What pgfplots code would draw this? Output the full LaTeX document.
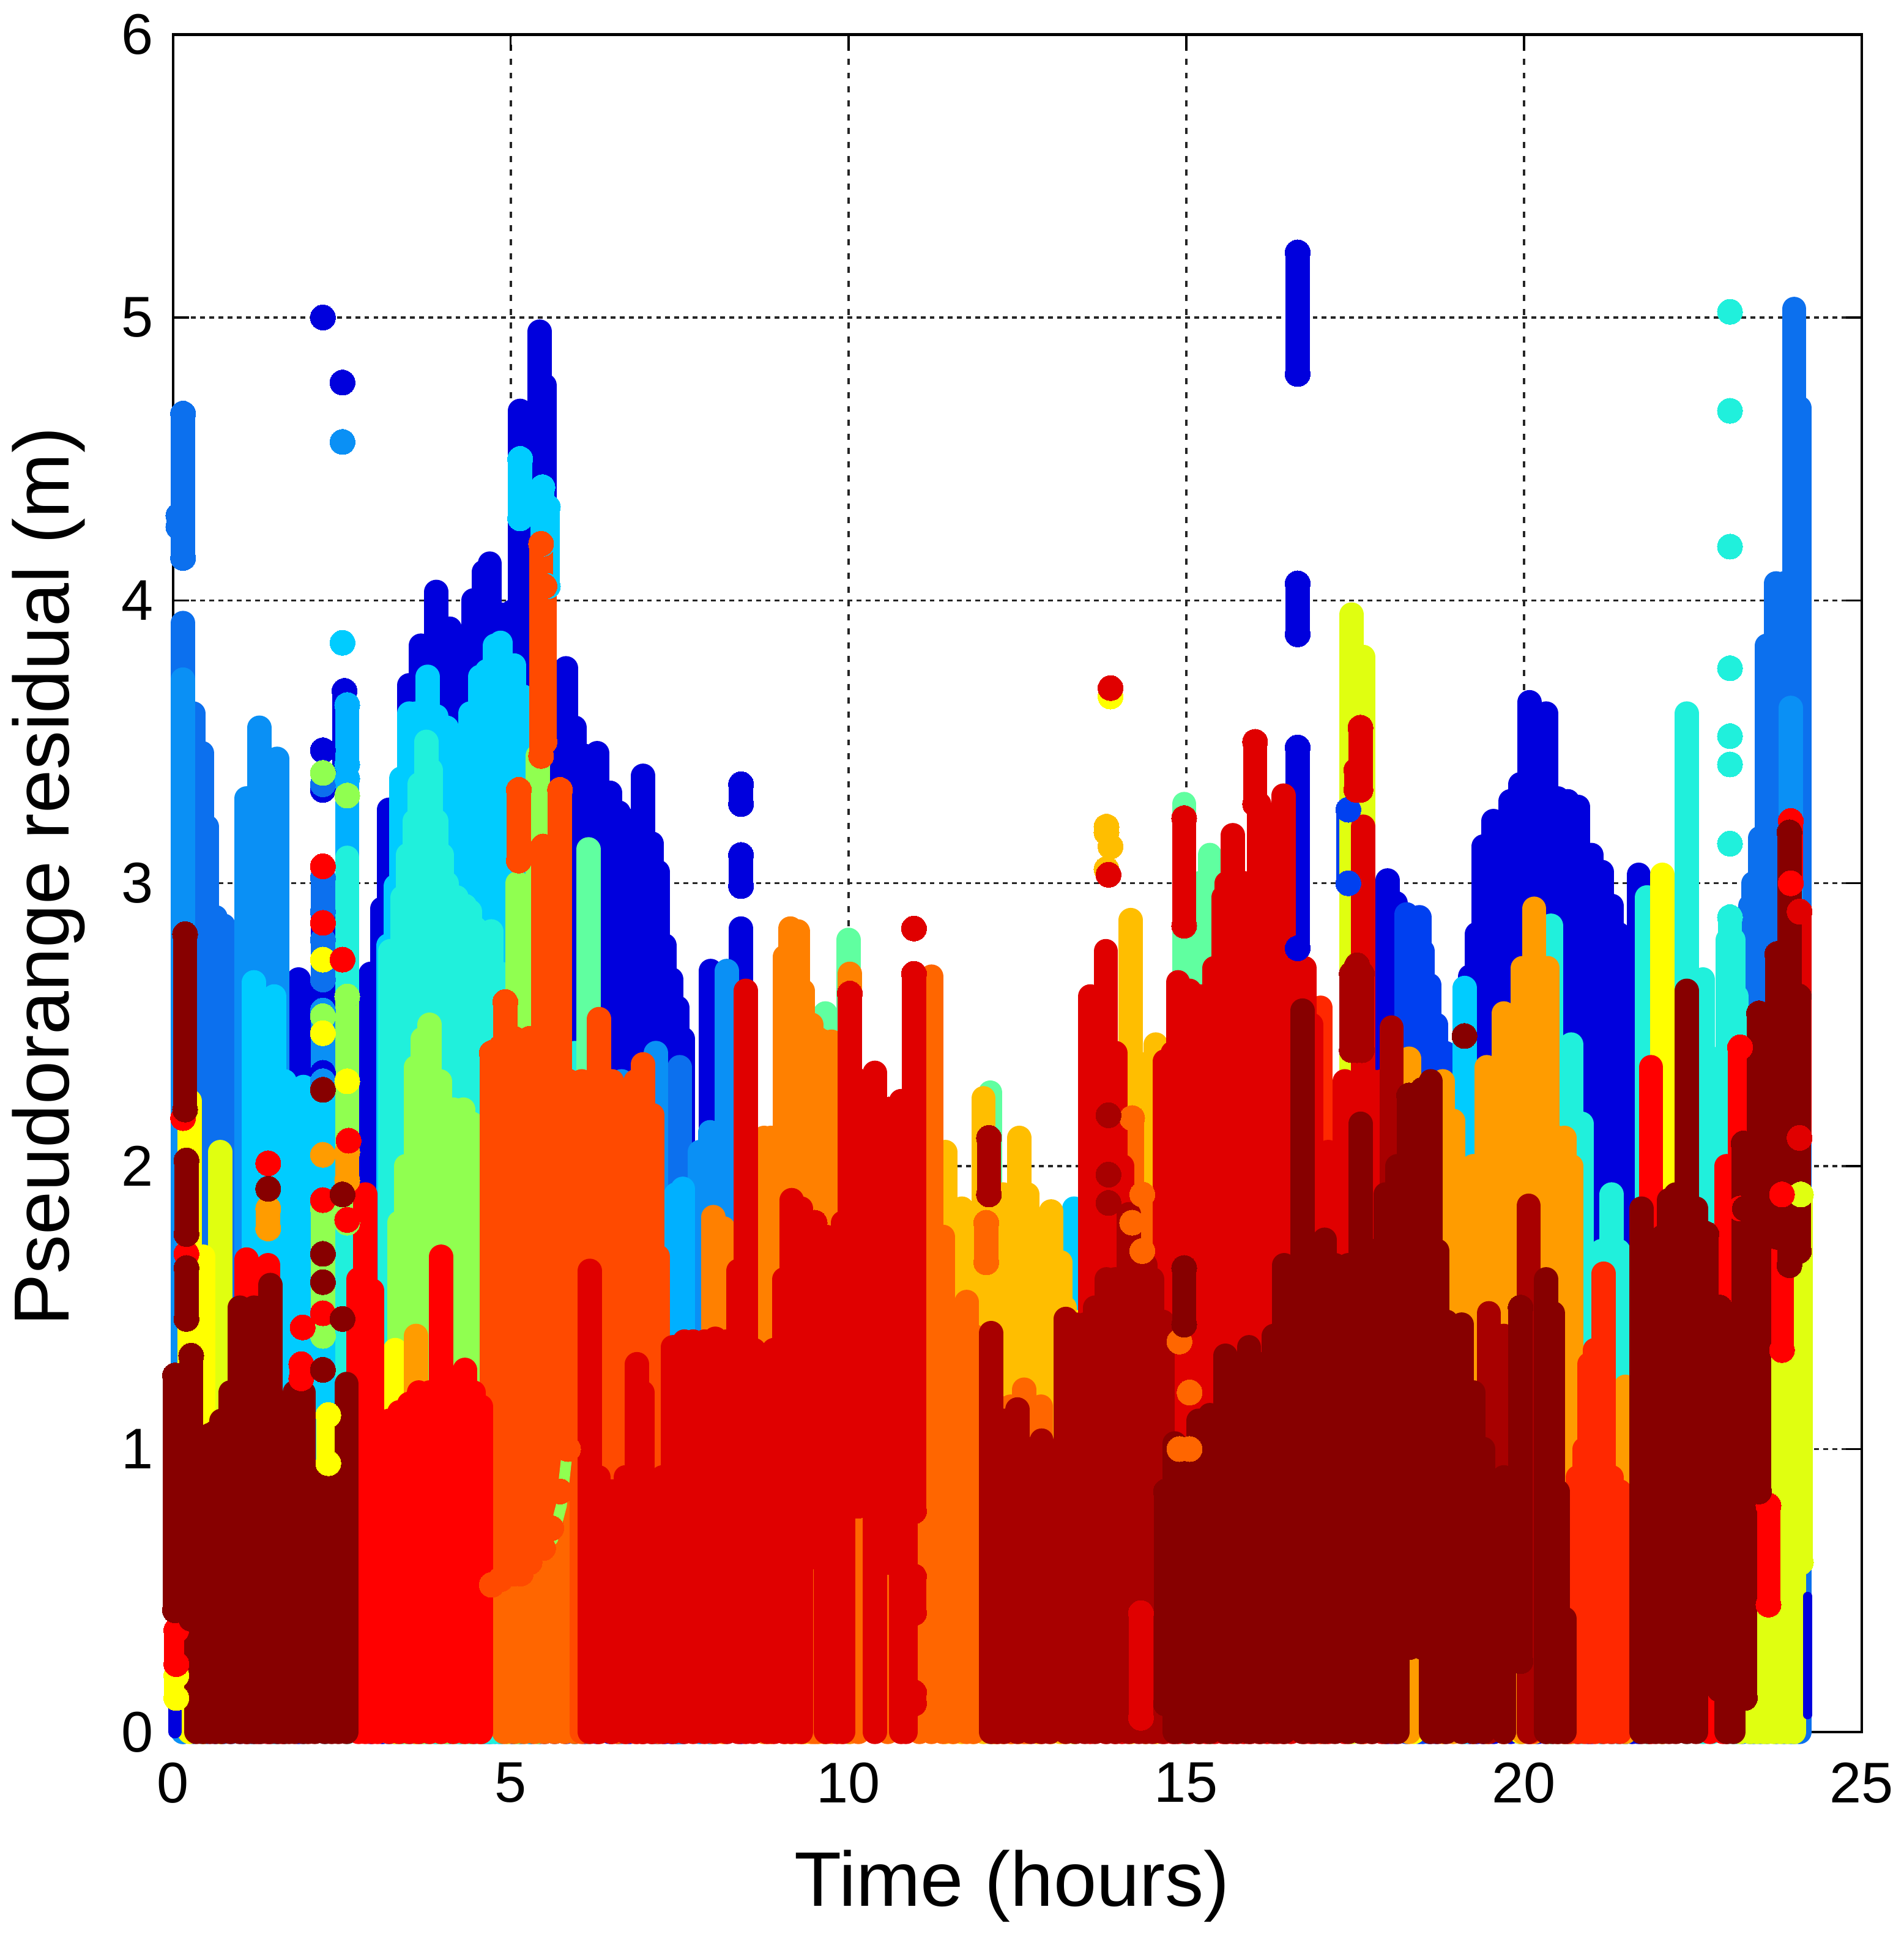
\documentclass[border=0pt]{standalone}
\usepackage{pgfplots}
\pgfplotsset{compat=1.18}
\usepackage{fontspec}
\setmainfont{Liberation Sans}
% jet-like colours, back to front
\definecolor{C1}{HTML}{0000DD}\definecolor{C2}{HTML}{0040F0}\definecolor{C3}{HTML}{0C70EE}
\definecolor{C4}{HTML}{0A90F5}\definecolor{C5}{HTML}{00B0FF}\definecolor{C6}{HTML}{00CCFF}
\definecolor{C7}{HTML}{20F0DC}\definecolor{C8}{HTML}{60FFA0}\definecolor{C9}{HTML}{90FF50}
\definecolor{C10}{HTML}{E0FF10}\definecolor{C11}{HTML}{FFFF00}\definecolor{C12}{HTML}{FFBE00}
\definecolor{C13}{HTML}{FF9C00}\definecolor{C14}{HTML}{FF8000}\definecolor{C15}{HTML}{FF6600}
\definecolor{C16}{HTML}{FF4A00}\definecolor{C17}{HTML}{FF2800}\definecolor{C18}{HTML}{FF0000}
\definecolor{C19}{HTML}{E00000}\definecolor{C20}{HTML}{A80000}\definecolor{C21}{HTML}{870000}
\pgfplotsset{
  comb/.style={ycomb,no markers,color=#1,line width=5.6pt,line cap=round},
  seg/.style={color=#1,line width=5.6pt,line cap=round,unbounded coords=jump,
    mark=*,mark size=2.9pt,mark options={solid,line width=0pt}},
}
\begin{document}
\begin{tikzpicture}
\useasboundingbox (-1.40,-1.66) rectangle (14.01,14.02);
\begin{axis}[
  scale only axis,width=13.67cm,height=13.74cm,
  xmin=0,xmax=25,ymin=0,ymax=6,
  xtick={0,5,...,25},ytick={0,1,...,6},
  clip=false,
  tick align=inside,major tick length=0.13cm,
  tick style={black,line width=0.5pt},
  axis line style={line width=0.6pt},
  xmajorgrids,ymajorgrids,
  x grid style={black!85,line width=0.55pt,dash pattern=on 1.4pt off 1.8pt},
  y grid style={black!85,line width=0.5pt,dash pattern=on 1.1pt off 1pt},
  /pgf/number format/assume math mode=true,
  tick label style={font=\fontsize{13.2}{14}\selectfont},
  xticklabel style={yshift=-3.5pt},
  yticklabel style={xshift=-1pt},
  xlabel={Time (hours)},ylabel={Pseudorange residual (m)},
  every axis x label/.style={at={(axis description cs:0.497,-0.091)},anchor=center,
    font=\fontsize{17.8}{20}\selectfont},
  every axis y label/.style={at={(axis description cs:-0.0735,0.504)},anchor=center,rotate=90,
    font=\fontsize{18}{20}\selectfont},
]
% dark blue
\addplot[comb=C1] coordinates {(1.86,2.66)(2.93,2.68)(3.1,2.91)(3.2,3.26)(3.3,3.2)(3.5,3.7)(3.67,3.84)(3.9,4.03)(4.1,3.9)(4.26,3.68)(4.45,4.0)(4.6,4.1)(4.69,4.13)(4.85,3.95)(5.02,3.96)(5.14,4.67)(5.3,4.5)(5.43,4.95)(5.5,4.76)(5.65,3.7)(5.82,3.76)(5.95,3.55)(6.1,3.45)(6.28,3.46)(6.47,3.32)(6.6,3.25)(6.76,3.22)(6.96,3.38)(7.09,3.14)(7.18,3.04)(7.28,2.78)(7.38,2.66)(7.47,2.56)(7.55,2.45)(7.96,2.69)(8.41,2.84)(17.98,3.01)(18.1,2.93)(19.2,2.67)(19.3,2.82)(19.4,3.13)(19.55,3.22)(19.8,3.29)(19.95,3.35)(20.08,3.64)(20.2,3.6)(20.33,3.6)(20.5,3.3)(20.65,3.29)(20.8,3.27)(20.95,3.1)(21.0,3.10)(21.15,3.04)(21.3,2.92)(21.4,2.82)(21.5,2.71)(21.6,2.67)(21.7,3.03)};
\addplot[seg=C1] coordinates {(2.22,5.0)(0,nan)(2.51,4.77)(0,nan)(2.22,3.47)(0,nan)(2.22,3.33)(0,nan)(2.22,2.33)(2.22,3.02)(0,nan)(2.54,3.4)(2.54,3.68)(0,nan)(16.65,4.8)(16.65,5.23)(0,nan)(16.65,3.88)(16.65,4.06)(0,nan)(16.65,2.77)(16.65,3.48)(0,nan)(8.41,3.28)(8.41,3.35)(0,nan)(8.41,2.99)(8.41,3.10)};
% blues
\addplot[comb=C2] coordinates {(18.26,2.89)(18.45,2.88)(18.5,2.76)(18.6,2.64)(18.7,2.5)(18.83,2.40)};
\addplot[seg=C2] coordinates {(17.4,3.0)(17.4,3.26)};
\addplot[comb=C3] coordinates {(0.15,3.92)(0.3,3.6)(0.43,3.46)(0.5,3.2)(0.63,2.88)(0.75,2.85)(0.86,2.78)(1.0,2.6)(7.5,2.35)(24.08,4.68)(23.85,4.06)(23.73,4.06)(23.6,3.84)(23.5,3.16)(23.4,3.0)(23.35,2.92)(23.23,2.71)(24.0,5.03)};
\addplot[seg=C3] coordinates {(0.15,4.15)(0.15,4.66)(0,nan)(0.08,4.26)(0.08,4.3)(0,nan)(2.22,2.9)(2.22,3.02)(0,nan)(2.22,3.35)(0,nan)(2.22,2.66)(2.22,2.8)};
\addplot[comb=C4] coordinates {(0.15,3.72)(1.09,3.3)(1.15,3.3)(1.28,3.55)(1.54,3.44)(1.4,3.36)(6.64,2.3)(7.15,2.4)(8.2,2.69)(7.8,2.05)(7.95,2.12)(23.95,3.62)};
\addplot[seg=C4] coordinates {(2.51,4.56)(0,nan)(2.22,2.3)(2.22,2.55)};
\addplot[comb=C5] coordinates {(7.45,1.9)(7.55,1.92)};
\addplot[seg=C5] coordinates {(2.58,3.42)(2.58,3.63)(0,nan)(2.58,2.6)(2.58,3.37)};
\addplot[comb=C6] coordinates {(1.2,2.65)(1.5,2.6)(1.65,2.3)(1.93,2.28)(2.25,2.28)(3.19,2.78)(3.3,2.99)(3.38,3.37)(3.5,3.6)(3.6,3.6)(3.77,3.73)(3.9,3.59)(4.05,3.55)(4.26,3.52)(4.4,3.6)(4.55,3.73)(4.65,3.75)(4.77,3.84)(4.85,3.85)(5.05,3.77)(5.18,3.66)(5.28,3.4)(13.34,1.85)(19.12,2.63)};
\addplot[seg=C6] coordinates {(2.51,3.85)(0,nan)(5.14,4.29)(5.14,4.5)(0,nan)(5.47,4.2)(5.47,4.4)(0,nan)(5.55,4.05)(5.55,4.33)};
% turquoise and greens
\addplot[comb=C7] coordinates {(2.58,3.09)(3.22,2.76)(3.4,2.95)(3.48,3.1)(3.58,3.22)(3.65,3.35)(3.75,3.5)(3.82,3.4)(3.9,3.22)(3.98,3.1)(4.05,3.0)(4.13,2.91)(4.2,2.95)(4.32,2.92)(4.4,2.9)(4.48,2.84)(4.6,2.8)(4.71,2.83)(4.85,2.68)(4.95,2.55)(5.95,2.4)(20.4,2.85)(20.7,2.43)(20.85,2.15)(21.15,1.7)(21.3,1.9)(21.4,1.7)(21.5,1.6)(21.82,2.95)(22.41,3.6)(22.65,2.66)(22.78,2.38)(23.02,2.8)(23.1,2.8)(23.15,2.6)};
\addplot[seg=C7] coordinates {(23.05,5.02)(0,nan)(23.05,4.67)(0,nan)(23.05,4.19)(0,nan)(23.05,3.76)(0,nan)(23.05,3.52)(0,nan)(23.05,3.42)(0,nan)(23.05,3.14)(0,nan)(23.05,2.88)(23.05,2.7)};
\addplot[comb=C8] coordinates {(6.15,3.12)(9.66,2.54)(10.0,2.8)(12.1,2.26)(14.97,3.28)(15.2,3.0)(15.35,3.1)};
\addplot[comb=C9] coordinates {(3.35,1.8)(3.45,2.0)(3.6,2.35)(3.7,2.45)(3.8,2.5)(3.95,2.3)(4.05,2.2)(4.15,2.2)(4.3,2.2)(4.42,2.15)(4.55,2.0)(5.1,3.0)(5.4,3.45)};
\addplot[seg=C9] coordinates {(2.22,3.39)(0,nan)(2.58,3.31)(0,nan)(2.22,2.53)(0,nan)(2.22,1.4)(2.22,1.85)(0,nan)(2.58,1.8)(2.58,2.6)};
\addplot[comb=C10] coordinates {(17.45,3.95)(17.62,3.8)(0.7,2.05)(23.2,0.5)(23.35,0.8)(23.45,1.0)(23.55,1.1)(23.6,1.2)(23.7,1.6)(23.8,1.85)(23.9,1.9)(24.0,1.95)};
\addplot[seg=C10] coordinates {(24.1,0.6)(24.1,1.9)};
% yellow to orange
\addplot[comb=C11] coordinates {(0.25,2.23)(0.45,1.68)(3.29,1.35)(9.36,0.03)(18.37,0.26)(19.95,0.2)(22.05,3.03)(13.34,1.45)};
\addplot[seg=C11] coordinates {(0.05,0.12)(0.05,0.2)(0,nan)(2.22,2.73)(0,nan)(2.22,2.47)(0,nan)(2.58,2.3)(0,nan)(2.3,0.95)(2.3,1.12)(0,nan)(13.88,3.66)};
\addplot[comb=C12] coordinates {(11.43,2.05)(11.55,1.85)(11.68,1.85)(11.85,1.8)(12.0,2.24)(12.15,1.9)(12.29,1.9)(12.42,1.8)(12.53,2.1)(12.65,1.9)(12.79,1.62)(13.0,1.84)(13.14,1.66)(13.2,1.5)(14.18,2.87)(14.4,2.36)(14.55,2.43)(4.95,0.5)};
\addplot[seg=C12] coordinates {(13.82,3.2)(13.82,3.18)(0,nan)(13.88,3.13)(0,nan)(13.82,3.05)};
\addplot[comb=C13] coordinates {(3.6,1.4)(18.3,2.38)(18.8,2.3)(18.95,2.16)(19.25,2.0)(19.45,2.35)(19.7,2.54)(19.98,2.7)(20.15,2.91)(20.35,2.7)(20.5,2.1)(20.6,2.1)(20.7,2.0)(21.5,1.22)};
\addplot[seg=C13] coordinates {(1.41,1.78)(1.41,1.85)(0,nan)(2.22,2.04)(0,nan)(2.58,1.95)(2.58,2.05)};
\addplot[comb=C14] coordinates {(8.0,1.82)(8.15,1.78)(8.75,2.1)(8.85,2.1)(9.06,2.74)(9.14,2.84)(9.25,2.83)(9.32,2.62)(9.45,2.5)(9.55,2.45)(9.64,2.44)(9.75,2.44)(9.9,2.4)(10.02,2.68)};
\addplot[comb=C15] coordinates {(4.9,0.5)(5.05,0.52)(5.2,0.5)(5.35,0.55)(5.5,0.6)(5.65,0.7)(5.8,0.9)(5.95,0.95)(6.58,0.9)(9.5,0.6)(10.15,0.8)(10.58,0.6)(11.05,0.9)(11.23,2.67)(11.4,1.75)(11.55,1.4)(11.75,1.52)(11.85,1.4)(12.2,1.15)(12.4,1.15)(12.6,1.21)(12.85,1.15)};
\addplot[seg=C15] coordinates {(12.04,1.66)(12.04,1.8)(0,nan)(14.2,1.8)(14.2,2.17)(0,nan)(14.35,1.7)(14.35,1.9)(0,nan)(14.9,1.0)(14.9,1.38)(0,nan)(15.05,1.0)(15.05,1.2)};
\addplot[comb=C16] coordinates {(4.55,0.8)(6.05,2.3)(6.31,2.52)(6.5,2.3)(6.7,2.2)(6.85,2.3)(6.96,2.36)(7.1,2.18)(7.18,1.68)};
\addplot[seg=C16] coordinates {(5.45,3.45)(5.45,4.2)(0,nan)(5.5,3.5)(5.5,4.05)(0,nan)(5.12,3.08)(5.12,3.33)(0,nan)(4.72,0.52)(4.72,2.4)(0,nan)(4.85,0.54)(4.85,2.42)(0,nan)(4.92,0.56)(4.92,2.58)(0,nan)(5.05,0.56)(5.05,2.45)(0,nan)(5.15,0.56)(5.15,2.41)(0,nan)(5.28,0.6)(5.28,2.45)(0,nan)(5.48,0.65)(5.48,3.13)(0,nan)(5.6,0.72)(5.6,3.13)(0,nan)(5.73,0.85)(5.73,3.33)(0,nan)(5.85,1.0)(5.85,2.3)};
\addplot[color=C9,line width=2.5pt,line cap=round] coordinates {(5.62,0.68)(5.75,0.8)(5.85,1.02)};
% reds
\addplot[comb=C17] coordinates {(16.99,2.56)(20.1,0.2)(20.65,0.6)(20.8,0.9)(20.9,1.0)(20.97,1.3)(21.05,1.35)(21.18,1.62)(21.3,0.9)(21.42,0.85)};
\addplot[comb=C18] coordinates {(1.09,1.67)(1.25,1.6)(1.41,1.65)(1.62,0.96)(2.75,1.6)(2.85,1.9)(2.95,1.56)(3.03,1.05)(3.2,1.1)(3.35,1.13)(3.5,1.16)(3.64,1.2)(3.8,1.2)(3.97,1.68)(4.15,1.25)(4.32,1.28)(4.45,1.2)(4.56,1.15)(21.88,2.35)(22.75,0.2)(22.95,0.06)(23.0,2.0)};
\addplot[seg=C18] coordinates {(0.05,0.24)(0.05,0.36)(0,nan)(0.15,2.17)(0,nan)(0.2,1.69)(0,nan)(1.41,2.01)(0,nan)(1.92,1.43)(0,nan)(1.9,1.25)(1.9,1.3)(0,nan)(2.22,3.06)(0,nan)(2.22,2.86)(0,nan)(2.51,2.73)(0,nan)(2.22,1.88)(0,nan)(2.22,1.48)(0,nan)(2.6,2.09)(0,nan)(2.58,1.81)(0,nan)(23.2,1.85)(23.2,2.42)(0,nan)(23.82,1.35)(23.82,1.9)(0,nan)(23.62,0.45)(23.62,0.8)(0,nan)(23.95,3.0)(23.95,3.22)};
\addplot[comb=C19] coordinates {(6.17,1.63)(6.3,0.9)(6.5,0.85)(6.7,0.9)(6.87,1.3)(6.95,1.2)(7.09,0.82)(7.25,0.9)(7.4,1.36)(7.57,1.38)(7.7,1.38)(7.87,1.38)(8.03,1.39)(8.2,1.38)(8.37,1.63)(8.48,2.62)(8.6,1.35)(8.8,1.32)(8.9,1.35)(9.05,1.6)(9.16,1.88)(9.3,1.85)(9.67,1.75)(9.83,1.75)(9.92,1.8)(10.39,2.33)(10.78,2.23)(10.85,2.2)(13.58,2.6)(13.81,2.76)(13.95,2.4)(14.05,2.0)(14.68,2.37)(14.8,2.4)(14.88,2.65)(15.05,2.62)(15.2,2.6)(15.3,2.6)(15.42,2.7)(15.55,2.95)(15.6,3.0)(15.69,3.17)(15.75,3.0)(15.85,3.0)(15.95,2.9)(16.08,3.28)(16.2,2.7)(16.35,2.7)(16.44,3.31)(16.55,2.7)(16.75,2.7)(16.85,2.5)(17.1,2.05)(17.35,2.3)(17.62,3.2)(17.75,2.3)(17.9,2.3)};
\addplot[seg=C19] coordinates {(9.5,0.62)(9.5,1.8)(0,nan)(10.02,0.8)(10.02,2.61)(0,nan)(10.15,0.8)(10.15,2.3)(0,nan)(10.6,0.6)(10.6,2.2)(0,nan)(10.97,0.78)(10.97,2.68)(0,nan)(10.97,0.42)(10.97,0.55)(0,nan)(10.97,0.1)(10.97,0.14)(0,nan)(10.97,2.84)(0,nan)(13.88,3.69)(0,nan)(13.85,3.03)(0,nan)(14.97,2.85)(14.97,3.23)(0,nan)(16.02,3.28)(16.02,3.5)(0,nan)(17.58,3.33)(17.58,3.55)(0,nan)(17.52,3.33)(17.52,3.4)(0,nan)(24.08,2.1)(24.08,2.9)};
\addplot[comb=C20] coordinates {(12.11,1.41)(12.2,1.1)(12.3,1.1)(12.5,1.14)(12.7,1.0)(12.86,1.03)(12.98,0.98)(13.22,1.46)(13.36,1.44)(13.5,1.44)(13.65,1.5)(13.82,1.6)(13.95,1.6)(14.15,1.83)(14.3,1.65)(14.4,1.65)(14.5,1.6)(14.65,1.45)(18.04,2.49)(19.48,1.48)(19.7,1.4)(20.07,1.86)};
\addplot[seg=C20] coordinates {(12.08,1.9)(12.08,2.1)(0,nan)(13.85,2.18)(0,nan)(13.85,1.97)(0,nan)(13.85,1.87)(0,nan)(17.53,2.41)(17.53,2.71)(0,nan)(17.45,2.41)(17.45,2.68)(0,nan)(17.6,2.41)(17.6,2.68)};
\addplot[seg=C19] coordinates {(14.33,0.05)(14.33,0.42)};
\addplot[comb=C21] coordinates {(0.35,1.0)(0.45,1.0)(0.55,1.05)(0.63,1.06)(0.72,1.1)(0.85,1.2)(0.99,1.5)(1.1,1.45)(1.2,1.5)(1.3,1.5)(1.44,1.58)(1.55,1.0)(1.65,0.9)(1.72,1.0)(1.8,1.2)(1.93,1.2)(2.0,0.9)(2.1,0.9)(2.25,0.86)(2.35,0.9)(2.45,0.85)(2.57,1.23)(14.83,1.02)(15.0,1.0)(15.18,1.1)(15.35,1.12)(15.58,1.33)(15.75,1.28)(15.93,1.36)(16.1,1.3)(16.3,1.4)(16.45,1.65)(16.72,2.55)(16.9,1.7)(17.05,1.74)(17.2,1.65)(17.4,1.65)(17.58,2.15)(17.75,1.7)(17.95,1.9)(18.13,2.0)(18.62,2.3)(18.72,1.7)(18.85,1.45)(19.08,1.44)(19.25,1.2)(19.4,1.0)(19.7,0.9)(20.33,1.6)(20.43,1.48)(20.5,0.85)(20.6,0.4)(21.74,1.85)(21.85,1.7)(21.95,1.6)(22.05,1.75)(22.15,1.88)(22.25,1.9)(22.41,2.62)(22.55,1.85)(23.0,0.9)(23.1,0.9)};
\addplot[seg=C21] coordinates {(0.18,2.2)(0.18,2.82)(0,nan)(0.2,1.76)(0.2,2.02)(0,nan)(0.2,1.46)(0.2,1.64)(0,nan)(0.03,0.43)(0.03,1.26)(0,nan)(0.27,0.4)(0.27,1.33)(0,nan)(1.41,1.92)(0,nan)(2.22,2.27)(0,nan)(2.22,1.69)(0,nan)(2.22,1.59)(0,nan)(2.22,1.28)(0,nan)(2.51,1.9)(0,nan)(2.51,1.46)(0,nan)(14.97,1.44)(14.97,1.64)(0,nan)(18.3,0.3)(18.3,2.25)(0,nan)(18.5,0.3)(18.5,2.27)(0,nan)(19.12,2.46)(0,nan)(19.95,0.25)(19.95,1.5)(0,nan)(22.7,0.25)(22.7,1.76)(0,nan)(22.9,0.15)(22.9,1.5)(0,nan)(23.27,0.12)(23.27,1.85)(0,nan)(23.25,0.12)(23.25,2.08)(0,nan)(23.48,0.85)(23.48,2.54)(0,nan)(23.75,1.75)(23.75,2.75)(0,nan)(23.93,1.65)(23.93,3.18)(0,nan)(24.07,1.7)(24.07,2.6)(0,nan)(14.7,0.1)(14.7,0.85)};
% dark blue slivers in front at both ends
\addplot[color=C1,line width=2pt,line cap=round] coordinates {(24.2,0.06)(24.2,0.48)};
\addplot[color=C1,line width=3pt,line cap=round] coordinates {(0.03,0.0)(0.03,0.09)};
\end{axis}
\end{tikzpicture}
\end{document}
